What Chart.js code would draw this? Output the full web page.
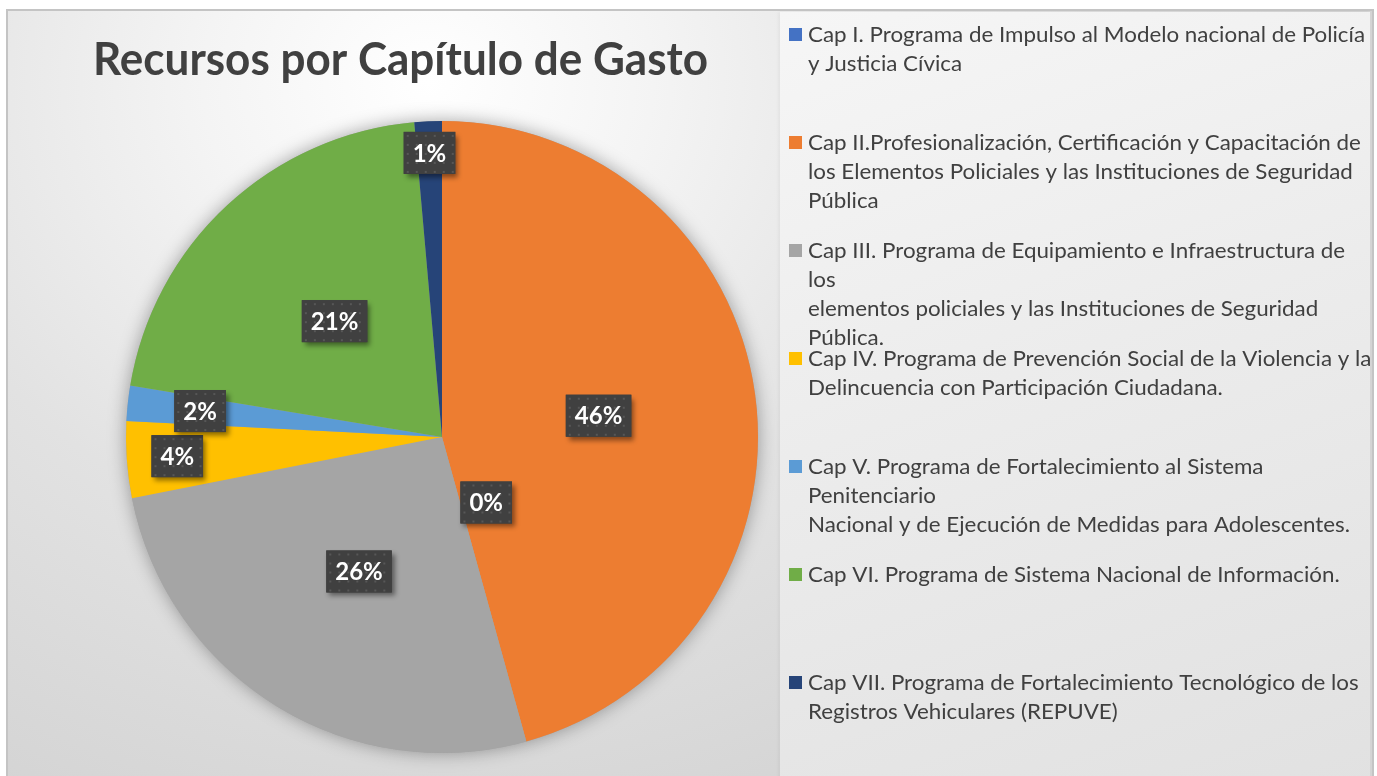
<!DOCTYPE html>
<html lang="es">
<head>
<meta charset="UTF-8">
<title>Recursos por Capítulo de Gasto</title>
<script src="https://cdn.jsdelivr.net/npm/chart.js"></script>
<style>
    html, body { margin: 0; padding: 0; background: #ffffff; overflow: hidden; }
    .frame {
        position: absolute; left: 6px; top: 9px; width: 1364px; height: 800px;
        border: 2px solid #c4c4c4;
        background: radial-gradient(ellipse 900px 800px at 420px 70px, #ffffff 0%, #f4f4f4 25%, #e2e2e2 60%, #d4d4d4 100%);
    }
    .legend-panel {
        position: absolute; left: 780px; top: 12px; width: 590px; height: 780px;
        background: linear-gradient(160deg, #f6f6f6 0%, #ececec 45%, #e1e1e1 100%);
        box-shadow: -2px 0 3px rgba(0,0,0,0.04);
    }
    .chart-box { position: absolute; left: 0; top: 0; width: 1377px; height: 776px; }
</style>
</head>
<body>
<div class="frame"></div>
<div class="legend-panel"></div>
<div class="chart-box"><canvas id="chart"></canvas></div>
<script>
// categories (legend text, split into the lines shown in the original)
const categories = [
    ['Cap I. Programa de Impulso al Modelo nacional de Policía', 'y Justicia Cívica'],
    ['Cap II.Profesionalización, Certificación y Capacitación de', 'los Elementos Policiales y las Instituciones de Seguridad', 'Pública'],
    ['Cap III. Programa de Equipamiento e Infraestructura de', 'los', 'elementos policiales y las Instituciones de Seguridad', 'Pública.'],
    ['Cap IV. Programa de Prevención Social de la Violencia y la', 'Delincuencia con Participación Ciudadana.'],
    ['Cap V. Programa de Fortalecimiento al Sistema', 'Penitenciario', 'Nacional y de Ejecución de Medidas para Adolescentes.'],
    ['Cap VI. Programa de Sistema Nacional de Información.'],
    ['Cap VII. Programa de Fortalecimiento Tecnológico de los', 'Registros Vehiculares (REPUVE)']
];
// share of resources per chapter (%)
const shares = [0, 45.7, 26.2, 3.9, 1.8, 21.0, 1.4];
const sliceColors = ['#4472C4', '#ED7D31', '#A5A5A5', '#FFC000', '#5B9BD5', '#70AD47', '#264478'];
const chartTitle = 'Recursos por Capítulo de Gasto';

// dotted texture for the label boxes
function makePattern(ctx) {
    const p = document.createElement('canvas');
    p.width = 9; p.height = 9;
    const pc = p.getContext('2d');
    pc.fillStyle = '#404040';
    pc.fillRect(0, 0, 9, 9);
    pc.fillStyle = '#575757';
    pc.fillRect(3, 3, 2, 2);
    return ctx.createPattern(p, 'repeat');
}

const excelPie = {
    id: 'excelPie',
    beforeDatasetsDraw(chart) {
        const a = chart.getDatasetMeta(0).data[1];
        const ctx = chart.ctx;
        ctx.save();
        ctx.shadowColor = 'rgba(0,0,0,0.35)';
        ctx.shadowBlur = 18;
        ctx.beginPath();
        ctx.arc(a.x, a.y, a.outerRadius, 0, Math.PI * 2);
        ctx.fillStyle = '#a5a5a5';
        ctx.fill();
        ctx.restore();
    },
    afterDatasetsDraw(chart, args, opts) {
        const ctx = chart.ctx;
        const meta = chart.getDatasetMeta(0);
        const values = chart.data.datasets[0].data;
        const total = values.reduce((s, v) => s + v, 0);
        const pattern = makePattern(ctx);
        ctx.save();
        ctx.font = 'bold 24px Lato';
        ctx.textAlign = 'center';
        ctx.textBaseline = 'middle';
        meta.data.forEach((arc, i) => {
            const place = opts.placements[i];
            let ang = (arc.startAngle + arc.endAngle) / 2;
            if (place.deg !== undefined) ang = -Math.PI / 2 + place.deg * Math.PI / 180;
            const r = arc.outerRadius * place.r;
            const cx = arc.x + Math.cos(ang) * r;
            const cy = arc.y + Math.sin(ang) * r;
            const txt = Math.round(values[i] / total * 100) + '%';
            const w = ctx.measureText(txt).width + 18;
            const h = 42;
            ctx.save();
            ctx.shadowColor = 'rgba(0,0,0,0.45)';
            ctx.shadowBlur = 5;
            ctx.shadowOffsetX = 3;
            ctx.shadowOffsetY = 4;
            ctx.fillStyle = '#404040';
            ctx.fillRect(cx - w / 2, cy - h / 2, w, h);
            ctx.restore();
            ctx.save();
            ctx.translate(cx - w / 2, cy - h / 2);
            ctx.fillStyle = pattern;
            ctx.fillRect(0, 0, w, h);
            ctx.restore();
            ctx.fillStyle = '#ffffff';
            ctx.fillText(txt, cx, cy + 1);
        });
        ctx.restore();
    },
    afterDraw(chart, args, opts) {
        const ctx = chart.ctx;
        ctx.save();
        // title
        ctx.font = 'bold 46px Lato';
        ctx.fillStyle = '#404040';
        ctx.textBaseline = 'alphabetic';
        const tw = ctx.measureText(chartTitle).width;
        ctx.save();
        ctx.translate(93, 75);
        ctx.scale(615 / tw, 1);
        ctx.fillText(chartTitle, 0, 0);
        ctx.restore();

        // legend
        ctx.font = '21px Lato';
        const k = 557 / ctx.measureText(categories[0][0]).width;
        const colors = chart.data.datasets[0].backgroundColor;
        chart.data.labels.forEach((lines, i) => {
            const base = 42 + 108 * i;
            ctx.fillStyle = colors[i];
            ctx.fillRect(789, base - 14, 13, 13);
            ctx.fillStyle = '#404040';
            lines.forEach((line, j) => {
                ctx.save();
                ctx.translate(808, base + j * 29);
                ctx.scale(k, 1);
                ctx.fillText(line, 0, 0);
                ctx.restore();
            });
        });
        ctx.restore();
    }
};

new Chart(document.getElementById('chart'), {
    type: 'pie',
    data: {
        labels: categories,
        datasets: [{
            data: shares,
            backgroundColor: sliceColors,
            borderWidth: 0
        }]
    },
    options: {
        responsive: true,
        maintainAspectRatio: false,
        animation: false,
        layout: { padding: { left: 126, top: 121, right: 619, bottom: 23 } },
        plugins: {
            legend: { display: false },
            tooltip: { enabled: false },
            excelPie: {
                placements: [
                    { r: 0.25, deg: 146 },
                    { r: 0.5 }, { r: 0.5 }, { r: 0.84 }, { r: 0.77 }, { r: 0.5 }, { r: 0.9 }
                ]
            }
        }
    },
    plugins: [excelPie]
});
</script>
</body>
</html>
